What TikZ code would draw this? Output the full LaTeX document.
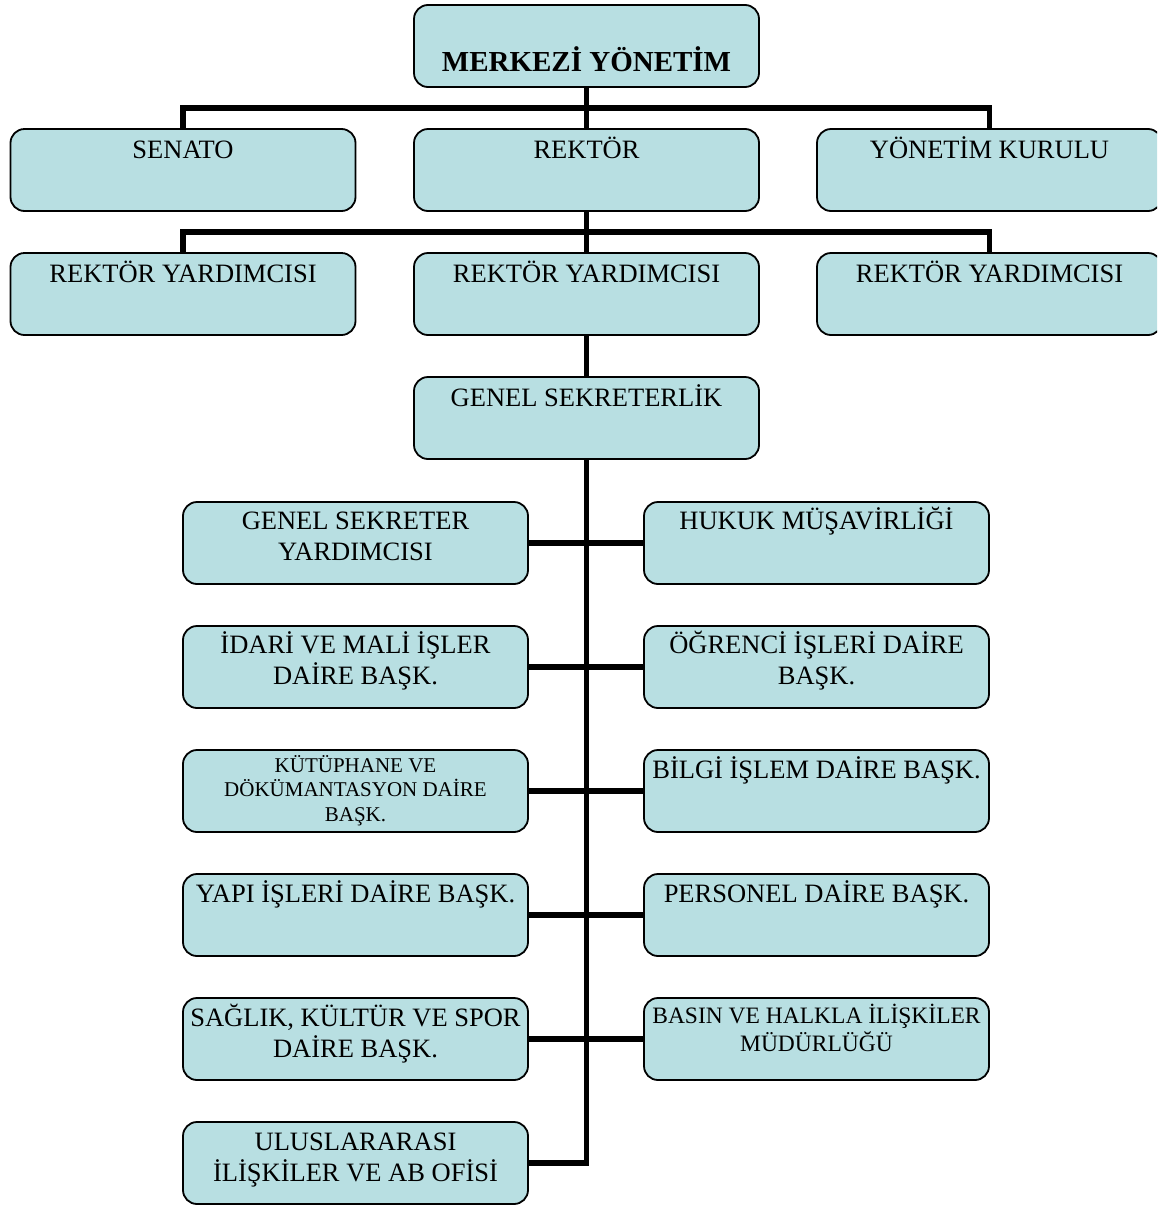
\documentclass[tikz,border=0pt]{standalone}
\usepackage{fontspec}
\setmainfont{Liberation Serif}
\usetikzlibrary{calc}
\definecolor{boxfill}{RGB}{184,223,226}
\tikzset{
  box/.style={draw=black, line width=1.8pt, fill=boxfill, rounded corners=14pt,
              minimum width=345pt, minimum height=82pt, inner sep=0pt},
  conn/.style={line width=5.5pt, line cap=butt},
  lbl/.style={font=\fontsize{26.5}{31}\selectfont, align=center, anchor=base, inner sep=0pt},
  lblsmall/.style={font=\fontsize{21}{24.5}\selectfont, align=center, anchor=base, inner sep=0pt},
  lblmid/.style={font=\fontsize{23.5}{28}\selectfont, align=center, anchor=base, inner sep=0pt},
  lblbold/.style={font=\fontsize{29}{34}\selectfont\bfseries, align=center, anchor=base, inner sep=0pt}
}
\begin{document}
\begin{tikzpicture}[x=1pt,y=-1pt]
\useasboundingbox (0,0) rectangle (1157,1205);
\clip (0,0) rectangle (1157,1205);
% boxes
\node[box] (top) at (586.5,46) {};
\node[box] (senato) at (183,170) {};
\node[box] (rektor) at (586.5,170) {};
\node[box] (yk) at (989.5,170) {};
\node[box] (ry1) at (183,294) {};
\node[box] (ry2) at (586.5,294) {};
\node[box] (ry3) at (989.5,294) {};
\node[box] (gs) at (586.5,418) {};
\node[box] (l1) at (355.5,543) {};
\node[box] (l2) at (355.5,667) {};
\node[box] (l3) at (355.5,791) {};
\node[box] (l4) at (355.5,915) {};
\node[box] (l5) at (355.5,1039) {};
\node[box] (l6) at (355.5,1163) {};
\node[box] (r1) at (816.5,543) {};
\node[box] (r2) at (816.5,667) {};
\node[box] (r3) at (816.5,791) {};
\node[box] (r4) at (816.5,915) {};
\node[box] (r5) at (816.5,1039) {};
% connectors
\draw[conn] (top.south) -- (rektor.north);
\draw[conn] (senato.north) |- ($(top.south)!0.5!(rektor.north)$) -| (yk.north);
\draw[conn] (rektor.south) -- (ry2.north);
\draw[conn] (ry1.north) |- ($(rektor.south)!0.5!(ry2.north)$) -| (ry3.north);
\draw[conn] (ry2.south) -- (gs.north);
\draw[conn] (gs.south) |- (l6.east);
\foreach \i in {1,...,5} { \draw[conn] (l\i.east) -- (r\i.west); }
% texts (anchor=base is the baseline of the last line)
\node[lblbold] (top-t) at ($(top.north)+(0,67)$) {MERKEZİ YÖNETİM};
\node[lbl] (senato-t) at ($(senato.north)+(0,30)$) {SENATO};
\node[lbl] (rektor-t) at ($(rektor.north)+(0,30)$) {REKTÖR};
\node[lbl] (yk-t) at ($(yk.north)+(0,30)$) {YÖNETİM KURULU};
\node[lbl] (ry1-t) at ($(ry1.north)+(0,30)$) {REKTÖR YARDIMCISI};
\node[lbl] (ry2-t) at ($(ry2.north)+(0,30)$) {REKTÖR YARDIMCISI};
\node[lbl] (ry3-t) at ($(ry3.north)+(0,30)$) {REKTÖR YARDIMCISI};
\node[lbl] (gs-t) at ($(gs.north)+(0,30)$) {GENEL SEKRETERLİK};
\node[lbl] (l1-t) at ($(l1.north)+(0,59)$) {GENEL SEKRETER\\YARDIMCISI};
\node[lbl] (l2-t) at ($(l2.north)+(0,59)$) {İDARİ VE MALİ İŞLER\\DAİRE BAŞK.};
\node[lblsmall] (l3-t) at ($(l3.north)+(0,72)$) {KÜTÜPHANE VE\\DÖKÜMANTASYON DAİRE\\BAŞK.};
\node[lbl] (l4-t) at ($(l4.north)+(0,29)$) {YAPI İŞLERİ DAİRE BAŞK.};
\node[lbl] (l5-t) at ($(l5.north)+(0,60)$) {SAĞLIK, KÜLTÜR VE SPOR\\DAİRE BAŞK.};
\node[lbl] (l6-t) at ($(l6.north)+(0,60)$) {ULUSLARARASI\\İLİŞKİLER VE AB OFİSİ};
\node[lbl] (r1-t) at ($(r1.north)+(0,28)$) {HUKUK MÜŞAVİRLİĞİ};
\node[lbl] (r2-t) at ($(r2.north)+(0,59)$) {ÖĞRENCİ İŞLERİ DAİRE\\BAŞK.};
\node[lbl] (r3-t) at ($(r3.north)+(0,29)$) {BİLGİ İŞLEM DAİRE BAŞK.};
\node[lbl] (r4-t) at ($(r4.north)+(0,29)$) {PERSONEL DAİRE BAŞK.};
\node[lblmid] (r5-t) at ($(r5.north)+(0,54)$) {BASIN VE HALKLA İLİŞKİLER\\MÜDÜRLÜĞÜ};
\end{tikzpicture}
\end{document}
